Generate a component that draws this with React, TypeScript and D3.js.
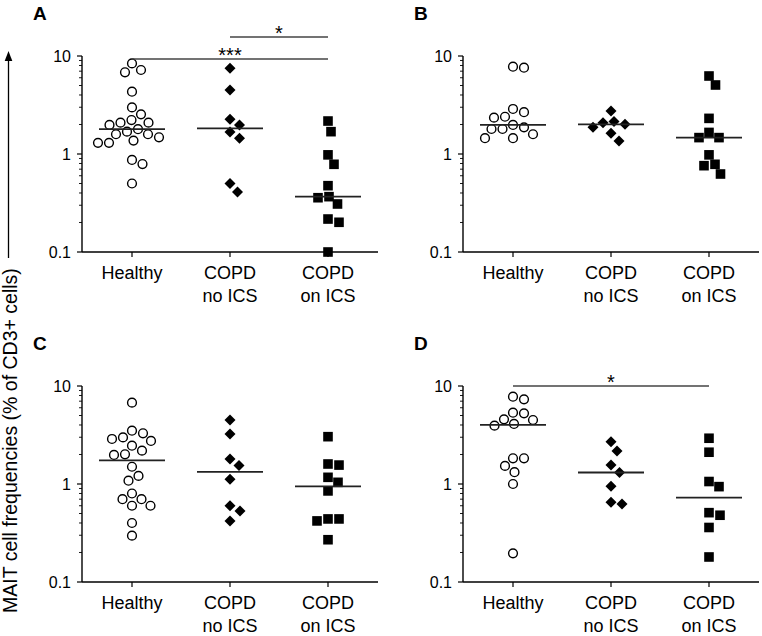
import React from "react";
import * as d3 from "d3";

// ---------- data ----------
const categoryLines: string[][] = [["Healthy"], ["COPD", "no ICS"], ["COPD", "on ICS"]];
const panelLabels = ["A", "B", "C", "D"];
const yTickValues = [0.1, 1, 10];
const yTickLabels = ["0.1", "1", "10"];
const yTitle = "MAIT cell frequencies (% of CD3+ cells)";

const healthyA = [8.4, 6.82, 7.2, 4.32, 2.99, 2.54, 2.22, 2.09, 1.98, 2.09, 1.59, 1.69, 1.79, 1.59, 1.37, 1.3, 1.3, 1.48, 0.87, 0.79, 0.5];
const noIcsA = [7.49, 4.5, 2.26, 1.98, 1.68, 1.45, 0.5, 0.41];
const onIcsA = [2.17, 1.69, 0.98, 0.785, 0.475, 0.367, 0.358, 0.309, 0.217, 0.201, 0.1];

const healthyB = [7.78, 7.6, 2.67, 2.88, 2.35, 2.4, 1.98, 1.8, 1.8, 1.87, 1.59, 1.45, 1.45];
const noIcsB = [1.87, 2.14, 2.09, 2.75, 2.01, 1.63, 1.36];
const onIcsB = [5.06, 6.25, 2.31, 1.66, 1.47, 1.47, 0.98, 0.785, 0.76, 0.625];

const healthyC = [6.76, 3.29, 2.88, 2.99, 3.5, 2.75, 2.46, 2.01, 1.98, 2.19, 1.5, 1.08, 1.21, 0.7, 0.6, 0.6, 0.7, 0.8, 0.4, 0.297];
const noIcsC = [4.5, 3.24, 1.8, 1.54, 1.12, 0.6, 0.53, 0.42];
const onIcsC = [3.04, 1.6, 1.56, 1.17, 1.04, 0.85, 0.44, 0.42, 0.44, 0.27];

const healthyD = [7.31, 7.78, 5.26, 4.57, 4.1, 3.94, 4.5, 5.34, 1.83, 1.83, 1.53, 1.32, 1.0, 0.196];
const noIcsD = [2.17, 2.7, 1.56, 1.31, 0.95, 0.625, 0.65];
const onIcsD = [2.93, 2.11, 1.06, 0.94, 0.48, 0.51, 0.36, 0.18];

const sigA = [
  { from: 0, to: 2, value: 9.3, label: "***" },
  { from: 1, to: 2, value: 15.6, label: "*" },
];
const sigB: { from: number; to: number; value: number; label: string }[] = [];
const sigC: { from: number; to: number; value: number; label: string }[] = [];
const sigD = [{ from: 0, to: 2, value: 10, label: "*" }];

const panelData = [
  { series: [healthyA, noIcsA, onIcsA], sig: sigA },
  { series: [healthyB, noIcsB, onIcsB], sig: sigB },
  { series: [healthyC, noIcsC, onIcsC], sig: sigC },
  { series: [healthyD, noIcsD, onIcsD], sig: sigD },
];

// ---------- layout ----------
const W = 762;
const H = 636;
const PW = 296;
const PH = 196;
const origins: [number, number][] = [
  [82, 56],
  [463, 56],
  [82, 386],
  [463, 386],
];
const FONT = "'Liberation Sans', Arial, Helvetica, sans-serif";

const x = d3.scalePoint<number>().domain([0, 1, 2]).range([50, 246]);
const y = d3.scaleLog().domain([0.1, 10]).range([PH, 0]);

function swarm(values: number[], D: number) {
  const order = values.map((v, i) => i).sort((a, b) => values[b] - values[a]);
  const placed: { dx: number; py: number; v: number }[] = [];
  for (const i of order) {
    const py = y(values[i]);
    let chosen = 0;
    for (let k = 0; k < 400; k++) {
      const cands = k === 0 ? [0] : [k * 0.5, -k * 0.5];
      let found = false;
      for (const c of cands) {
        const ok = placed.every((p) => (p.dx - c) ** 2 + (p.py - py) ** 2 >= D * D);
        if (ok) {
          chosen = c;
          found = true;
          break;
        }
      }
      if (found) break;
    }
    placed.push({ dx: chosen, py, v: values[i] });
  }
  return placed;
}

const minorTicks: number[] = [];
[0.1, 1].forEach((d) => {
  for (let k = 2; k <= 9; k++) minorTicks.push(d * k);
});

function Marker({ kind, cx, cy }: { kind: number; cx: number; cy: number }) {
  if (kind === 0) return <circle cx={cx} cy={cy} r={4.4} fill="#fff" stroke="#000" strokeWidth={1.4} />;
  if (kind === 1) {
    const r = 5.5;
    return <path d={`M${cx},${cy - r}L${cx + r},${cy}L${cx},${cy + r}L${cx - r},${cy}Z`} fill="#000" />;
  }
  const s = 9.6;
  return <rect x={cx - s / 2} y={cy - s / 2} width={s} height={s} fill="#000" />;
}

function Panel({ idx }: { idx: number }) {
  const [ox, oy] = origins[idx];
  const { series, sig } = panelData[idx];
  return (
    <g transform={`translate(${ox},${oy})`}>
      <text x={-49} y={-36} fontFamily={FONT} fontWeight="bold" fontSize={19}>
        {panelLabels[idx]}
      </text>
      {/* y axis */}
      <line x1={0} x2={0} y1={0} y2={PH} stroke="#000" strokeWidth={1.4} />
      {yTickValues.map((t, i) => (
        <g key={t}>
          <line x1={-5} x2={0} y1={y(t)} y2={y(t)} stroke="#000" strokeWidth={1.2} />
          <text x={-11} y={y(t)} dy="0.36em" textAnchor="end" fontFamily={FONT} fontSize={16}>
            {yTickLabels[i]}
          </text>
        </g>
      ))}
      {minorTicks.map((t) => (
        <line key={t} x1={-3} x2={0} y1={y(t)} y2={y(t)} stroke="#000" strokeWidth={0.9} />
      ))}
      {/* x axis */}
      <line x1={0} x2={PW} y1={PH} y2={PH} stroke="#000" strokeWidth={1.4} />
      {categoryLines.map((lines, i) => (
        <g key={i}>
          <line x1={x(i)} x2={x(i)} y1={PH} y2={PH + 5} stroke="#000" strokeWidth={1.2} />
          {lines.map((l, j) => (
            <text key={j} x={x(i)} y={PH + 27 + j * 23} textAnchor="middle" fontFamily={FONT} fontSize={18}>
              {l}
            </text>
          ))}
        </g>
      ))}
      {/* points */}
      {series.map((vals, si) => {
        const pts = swarm(vals, 11);
        const med = d3.median(vals) as number;
        const cx = x(si) as number;
        return (
          <g key={si}>
            {pts.map((p, k) => (
              <Marker key={k} kind={si} cx={cx + p.dx} cy={p.py} />
            ))}
            <line x1={cx - 33} x2={cx + 33} y1={y(med)} y2={y(med)} stroke="#222" strokeWidth={1.8} />
          </g>
        );
      })}
      {/* significance */}
      {sig.map((s, k) => {
        const x1 = x(s.from) as number;
        const x2 = x(s.to) as number;
        const yy = y(s.value);
        return (
          <g key={k}>
            <line x1={x1} x2={x2} y1={yy} y2={yy} stroke="#444" strokeWidth={1.5} />
            <text x={(x1 + x2) / 2} y={yy + 3} textAnchor="middle" fontFamily={FONT} fontSize={20}>
              {s.label}
            </text>
          </g>
        );
      })}
    </g>
  );
}

export default function App() {
  return (
    <svg
      width={W}
      height={H}
      viewBox={`0 0 ${W} ${H}`}
      style={{ position: "absolute", left: 0, top: 0, background: "#fff" }}
    >
      <rect width={W} height={H} fill="#fff" />
      {/* y title with arrow */}
      <line x1={8.5} x2={8.5} y1={258} y2={60} stroke="#000" strokeWidth={1.3} />
      <path d="M8.5,51L12.3,61L4.7,61Z" fill="#000" />
      <text
        transform="translate(16.5,613) rotate(-90)"
        textAnchor="start"
        fontFamily={FONT}
        fontSize={19.5}
      >
        {yTitle}
      </text>
      {[0, 1, 2, 3].map((i) => (
        <Panel key={i} idx={i} />
      ))}
    </svg>
  );
}
